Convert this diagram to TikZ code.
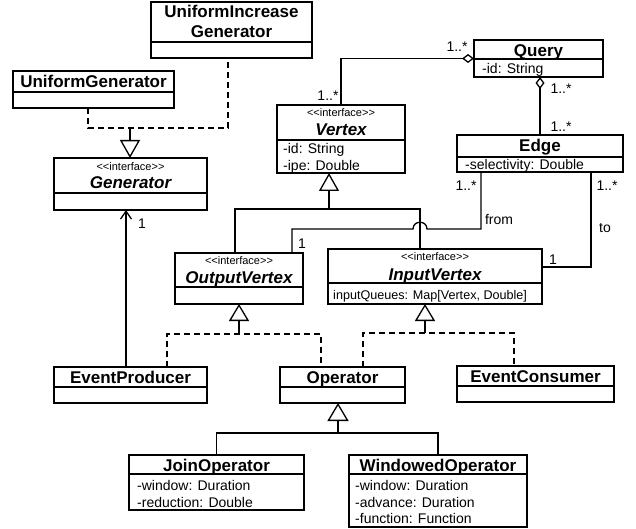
\documentclass[tikz,border=0pt]{standalone}
\usepackage{fontspec}
\setmainfont{Liberation Sans}
\usetikzlibrary{arrows.meta}
\newcommand\ttlfont{\fontsize{17}{20}\selectfont\bfseries}
\newcommand\ttlifont{\fontsize{17}{20}\selectfont\bfseries\itshape}
\newcommand\sterfont{\fontsize{11}{12}\selectfont}
\newcommand\attrfont{\fontsize{14}{16}\selectfont}
\newcommand\stereo{<\kern0pt<interface>\kern0pt>}
\tikzset{
  classbox/.style={draw, line width=1.4pt, inner sep=0pt, outer sep=0pt},
  divline/.style={line width=1.4pt},
  conn/.style={line width=1.3pt},
  real/.style={conn, dash pattern=on 6pt off 4pt},
  gentip/.style={-{Triangle[open, length=18pt, width=20pt]}},
  aggtip/.style={-{Diamond[open, length=12pt, width=9pt]}},
  navtip/.style={-{Straight Barb[length=8pt, width=11pt]}},
  ttl/.style={inner sep=0pt, font=\ttlfont, text height=12pt, text depth=0pt},
  ttli/.style={inner sep=0pt, font=\ttlifont, text height=12pt, text depth=0pt},
  ster/.style={inner sep=0pt, font=\sterfont, text height=7.5pt, text depth=0pt},
  attr/.style={inner sep=0pt, anchor=west, font=\attrfont, text height=10pt, text depth=0pt},
  lbl/.style={inner sep=0pt, font=\attrfont, text height=10pt, text depth=0pt},
}
\newcommand\umlclass[6]{%
  \node[classbox, minimum width={#4pt-#2pt}, minimum height={#5pt-#3pt}] (#1) at ({(#2+#4)/2},{(#3+#5)/2}) {};
  \draw[divline] (#1.west |- 0,#6) -- (#1.east |- 0,#6);
}
\begin{document}
\begin{tikzpicture}[x=1pt,y=-1pt]
\useasboundingbox (0,0) rectangle (636,529);
\fill[white] (0,0) rectangle (636,529);

% classes
\umlclass{uig}{151}{2}{312}{58}{42}
\umlclass{ug}{13}{71}{174}{108}{92}
\umlclass{gen}{54}{158}{207}{210}{193}
\umlclass{vertex}{277}{105}{405}{173}{140}
\umlclass{query}{474}{40}{603}{77}{59}
\umlclass{edge}{457}{135}{623}{172}{157}
\umlclass{outv}{175}{253}{303}{304}{287}
\umlclass{inv}{328}{249}{542}{304}{283}
\umlclass{ep}{54}{367}{207}{403}{387}
\umlclass{op}{280}{367}{405}{403}{387}
\umlclass{ec}{457}{366}{614}{402}{386}
\umlclass{join}{129}{455}{304}{510}{474}
\umlclass{win}{349}{455}{527}{527}{474}

% texts
\node[inner sep=0pt, font=\ttlfont, align=center] (uigT) at (231.5,21) {UniformIncrease\\Generator};
\node[ttl] (ugT) at (93.5,82) {UniformGenerator};
\node[ster] (genS) at (130.5,167) {\stereo};
\node[ttli] (genT) at (130.5,183) {Generator};
\node[ster] (vertexS) at (341,113) {\stereo};
\node[ttli] (vertexT) at (341,130) {Vertex};
\node[attr] (vertexA1) at (283,149) {-id: String};
\node[attr] (vertexA2) at (283,166) {-ipe: Double};
\node[ttl] (queryT) at (538.5,51) {Query};
\node[attr] (queryA) at (482,69) {-id: String};
\node[ttl] (edgeT) at (540,146) {Edge};
\node[attr] (edgeA) at (465,165) {-selectivity: Double};
\node[ster] (outvS) at (239,261) {\stereo};
\node[ttli] (outvT) at (239,277) {OutputVertex};
\node[ster] (invS) at (435,257) {\stereo};
\node[ttli] (invT) at (435,274) {InputVertex};
\node[attr, font=\fontsize{12.6}{14}\selectfont] (invA) at (333,294) {inputQueues: Map[Vertex, Double]};
\node[ttl] (epT) at (130.5,377) {EventProducer};
\node[ttl] (opT) at (342.5,377) {Operator};
\node[ttl] (ecT) at (535.5,376) {EventConsumer};
\node[ttl] (joinT) at (216.5,465) {JoinOperator};
\node[attr] (joinA1) at (137,485) {-window: Duration};
\node[attr] (joinA2) at (137,502) {-reduction: Double};
\node[ttl] (winT) at (438,465) {WindowedOperator};
\node[attr] (winA1) at (355,485) {-window: Duration};
\node[attr] (winA2) at (355,502) {-advance: Duration};
\node[attr] (winA3) at (355,518) {-function: Function};

% labels
\node[lbl] (lq1) at (457,47) {1..*};
\node[lbl] (lv1) at (328,96) {1..*};
\node[lbl] (lq2) at (561,89) {1..*};
\node[lbl] (le1) at (561,127) {1..*};
\node[lbl] (lf1) at (466,185) {1..*};
\node[lbl] (lfrom) at (499,219) {from};
\node[lbl] (lt1) at (607,185) {1..*};
\node[lbl] (lto) at (605,228) {to};
\node[lbl] (lt2) at (553,259) {1};
\node[lbl] (lf2) at (302,243) {1};
\node[lbl] (lg1) at (142,223) {1};

% Query aggregations
\draw[conn, aggtip] (vertex.north) |- (query.west);
\draw[conn, aggtip] (edge.north -| 540,0) -- (query.south -| 540,0);

% Vertex generalization
\coordinate (vj) at (329,209);
\draw[conn] (outv.north -| 235,0) |- (vj) -| (inv.north -| 420,0);
\draw[conn, gentip] (vj) -- (vertex.south -| vj);

% from association (with jump)
\coordinate (fa) at (481,229);
\coordinate (fb) at (292,229);
\draw[conn] (edge.south -| fa) -- (fa) -- (427,229) .. controls (427,220) and (413,220) .. (413,229) -- (fb) -- (outv.north -| fb);

% to association
\draw[conn] (edge.south -| 591,0) |- (inv.east |- 0,267);

% EventProducer -> Generator
\draw[conn, navtip] (ep.north -| 126,0) -- (gen.south -| 126,0);

% Generator realizations
\coordinate (gj) at (130,128);
\draw[real] (ug.south -| 88,0) |- (gj) -| (uig.south -| 228,0);
\draw[conn, gentip] (gj) -- (gen.north -| gj);

% OutputVertex realizations
\coordinate (oj) at (239,334);
\draw[real] (ep.north -| 167,0) |- (oj) -| (op.north -| 321,0);
\draw[conn, -{Triangle[open, length=17pt, width=20pt]}] (oj) -- (outv.south -| oj);

% InputVertex realizations
\coordinate (ij) at (425,333);
\draw[real] (op.north -| 363,0) |- (ij) -| (ec.north -| 514,0);
\draw[conn, -{Triangle[open, length=17pt, width=20pt]}] (ij) -- (inv.south -| ij);

% Operator generalization
\coordinate (opj) at (338,433);
\draw[conn] (join.north) |- (opj) -| (win.north);
\draw[conn, -{Triangle[open, length=18pt, width=21pt]}] (opj) -- (op.south -| opj);
\end{tikzpicture}
\end{document}
